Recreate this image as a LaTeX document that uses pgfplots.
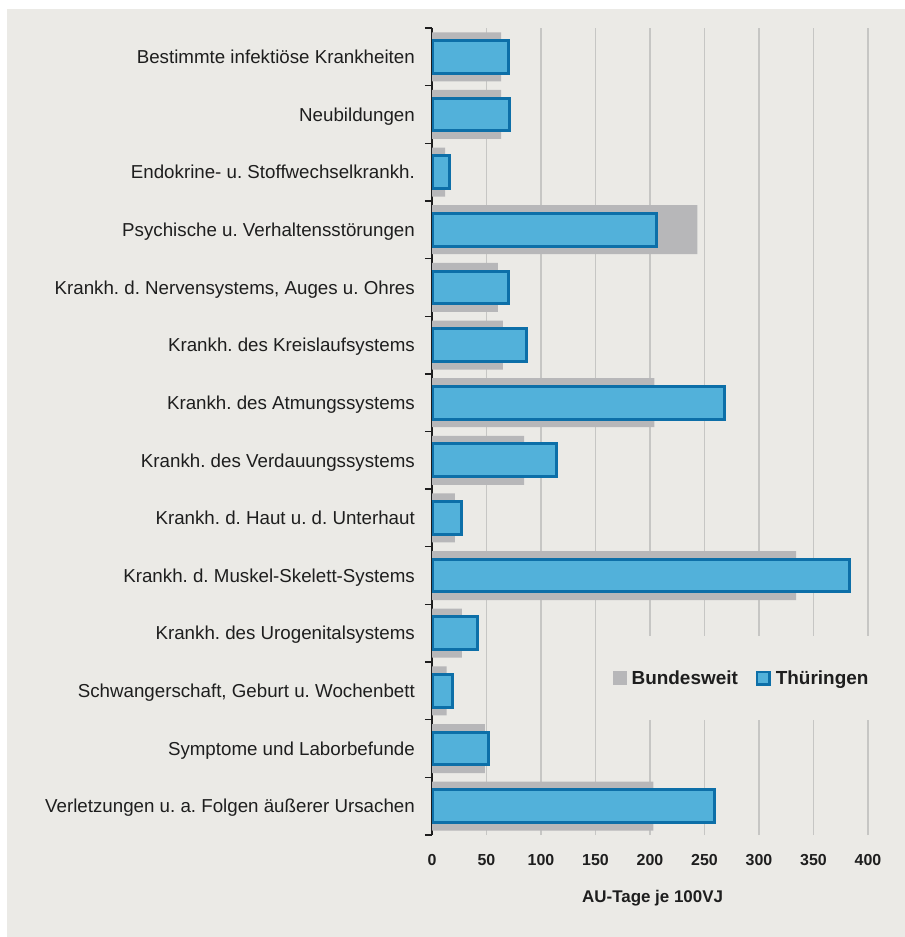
\documentclass[border=0pt]{standalone}
\usepackage{fontspec}
\setmainfont{Liberation Sans}
\usepackage{pgfplots}
\pgfplotsset{compat=1.18}
\definecolor{bg}{HTML}{EBEAE6}
\definecolor{barg}{HTML}{B7B7B9}
\definecolor{barb}{HTML}{52B1DA}
\definecolor{barbd}{HTML}{0D6FA8}
\definecolor{gridc}{HTML}{C6C6C4}
\definecolor{txt}{HTML}{1E1E1E}
\begin{document}
\frenchspacing
\begin{tikzpicture}
\fill[white] (0,0) rectangle (905bp,937bp);
\fill[bg] (7bp,0) rectangle (905bp,928bp);
\begin{axis}[
  at={(432bp,102bp)}, anchor=south west,
  scale only axis, width=436bp, height=807bp,
  xmin=0, xmax=400, ymin=-0.5, ymax=13.5,
  axis lines*=left,
  x axis line style={draw=none},
  y axis line style={draw=txt, line width=1.3bp},
  tick align=outside,
  major tick length=0pt, minor tick length=7bp,
  minor tick style={draw=txt, line width=1.3bp},
  xtick={0,50,...,400},
  xtick style={draw=none},
  xmajorgrids, grid style={draw=gridc, line width=1.3bp},
  ytick={0,...,13},
  minor ytick={-0.5,0.5,...,13.5},
  yticklabels={Verletzungen u. a. Folgen äußerer Ursachen, Symptome und Laborbefunde, {Schwangerschaft, Geburt u. Wochenbett}, Krankh. des Urogenitalsystems, Krankh. d. Muskel-Skelett-Systems, Krankh. d. Haut u. d. Unterhaut, Krankh. des Verdauungssystems, Krankh. des Atmungssystems, Krankh. des Kreislaufsystems, {Krankh. d. Nervensystems, Auges u. Ohres}, Psychische u. Verhaltensstörungen, Endokrine- u. Stoffwechselkrankh., Neubildungen, Bestimmte infektiöse Krankheiten},
  yticklabel style={font=\frenchspacing\fontsize{18.8}{19}\selectfont, text=txt, anchor=base east, inner sep=0pt, xshift=-17bp, yshift=-6.7bp},
  /pgf/number format/assume math mode=true,
  xticklabel style={font=\bfseries\fontsize{16}{16}\selectfont, text=txt, anchor=base, inner sep=0pt, yshift=-30.7bp},
  xlabel={AU-Tage je 100VJ},
  xlabel style={at={(axis description cs:0.506,0)}, anchor=base, inner sep=0pt, yshift=-67bp, font=\bfseries\fontsize{17}{17}\selectfont, text=txt},
  legend columns=2,
  legend style={at={(axis description cs:0.7076,0.1945)}, anchor=center, draw=none, fill=bg, inner xsep=10bp, inner ysep=34bp,
    font=\bfseries\fontsize{19}{19}\selectfont, text=txt,
    nodes={inner sep=0pt},
    /tikz/every odd column/.append style={column sep=5bp},
    /tikz/every even column/.append style={column sep=18bp}},
]
\addplot[xbar, bar shift=0pt, bar width=0.85, fill=barg, draw=none,
  legend image code/.code={\fill[barg] (0bp,-7bp) rectangle (14bp,7bp);}]
coordinates {
 (63.5,13) (63.5,12) (12,11) (243.5,10) (60.5,9) (65,8) (204,7)
 (84.5,6) (21,5) (334,4) (27.5,3) (13.5,2) (48.5,1) (203,0)
};
\addlegendentry{Bundesweit}
\addplot[xbar, bar shift=0pt, bar width=0.567, fill=barb, draw=barbd, line width=3bp,
  legend image code/.code={\draw[fill=barb, draw=barbd, line width=2.5bp] (1.25bp,-6.25bp) rectangle (13.75bp,6.25bp);}]
coordinates {
 (70,13) (71,12) (16.5,11) (206,10) (70,9) (87,8) (268,7)
 (114,6) (27,5) (383,4) (41.5,3) (19,2) (52,1) (259,0)
};
\addlegendentry{Thüringen}
\end{axis}
\pgfresetboundingbox
\useasboundingbox (0,0) rectangle (905bp,937bp);
\end{tikzpicture}
\end{document}
